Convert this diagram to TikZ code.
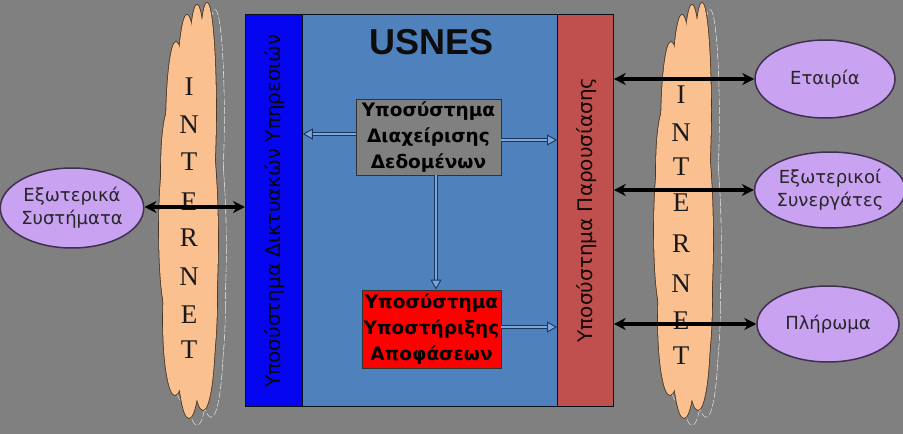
\documentclass[tikz,border=0pt]{standalone}
\usepackage{fontspec}
\setmainfont{DejaVu Sans}
\newfontfamily\usfont{Liberation Sans}
\newfontfamily\serf{Liberation Serif}
\usetikzlibrary{arrows.meta,shapes.geometric}
\definecolor{bg}{HTML}{808080}
\definecolor{netblue}{HTML}{0505F0}
\definecolor{midblue}{HTML}{4F81BD}
\definecolor{lightarrow}{HTML}{7FA6D6}
\definecolor{presred}{HTML}{C0504D}
\definecolor{peach}{HTML}{FAC090}
\definecolor{lav}{HTML}{C9A3F2}
\definecolor{navy}{HTML}{17375E}
\definecolor{cloudedge}{HTML}{4A3520}
\definecolor{lavedge}{HTML}{40304F}
\def\lobes{0/225/28/175, -13/130/10/88, -2/110/10/95, 8/100/9/95, 18/110/9/107, -14/320/12/75, 0/340/12/78, 14/330/12/80, -22/230/8/80, 22/240/7/90, -20/170/8/60, 20/300/8/70}
\tikzset{
  shadowline/.style={draw=white!80!bg, line width=1.2pt, dash pattern=on 7pt off 2pt},
  cloudline/.style={draw=cloudedge, line width=1.6pt},
  pics/netcloud/.style={code={
    \foreach \dx/\cy/\rx/\ry in \lobes {\draw[shadowline] (\dx+8,\cy+7) ellipse[x radius=\rx, y radius=\ry];}
    \foreach \dx/\cy/\rx/\ry in \lobes {\fill[bg] (\dx+8,\cy+7) ellipse[x radius=\rx, y radius=\ry];}
    \foreach \dx/\cy/\rx/\ry in \lobes {\draw[cloudline] (\dx,\cy) ellipse[x radius=\rx, y radius=\ry];}
    \foreach \dx/\cy/\rx/\ry in \lobes {\fill[peach] (\dx,\cy) ellipse[x radius=\rx, y radius=\ry];}
  }},
  letter/.style={font=\serf\fontsize{27}{27}\selectfont, inner sep=0pt, text=black!90},
  actor/.style={ellipse, fill=lav, draw=lavedge, line width=1.5pt, inner sep=0pt, align=center,
    font=\fontsize{18}{23}\selectfont, text=black!85},
  strip/.style={anchor=north west, inner sep=0pt, draw=black!70!navy, line width=0.8pt},
  subsys/.style={draw=black!80, line width=0.8pt, align=center, inner sep=0pt,
    font=\bfseries\fontsize{18.5}{26}\selectfont},
  vlabel/.style={rotate=90, font=\fontsize{20}{20}\selectfont, inner sep=0pt},
  dbl/.style={draw=navy, line width=0.9pt, double=lightarrow, double distance=2.4pt,
    -{Triangle[length=10pt, width=11pt, fill=lightarrow]}},
  link/.style={line width=3.4pt, black, {Stealth[length=12pt,width=12pt]}-{Stealth[length=12pt,width=12pt]}}
}
\begin{document}
\begin{tikzpicture}[x=1pt,y=-1pt]
\useasboundingbox (0,0) rectangle (903,434);
\fill[bg] (0,0) rectangle (903,434);
% clouds
\pic at (189,0) {netcloud};
\pic at (684,0) {netcloud};
\foreach \ch/\yy [count=\i] in {I/87,N/125,T/162,E/202,R/238,N/277,E/315,T/350}
  \node[letter] (la\i) at (189,\yy) {\ch};
\foreach \ch/\yy [count=\i] in {I/95,N/133,T/167,E/203,R/244,N/284,E/321,T/356}
  \node[letter] (lb\i) at (681,\yy) {\ch};
% main block
\node[strip, fill=midblue, minimum width=368, minimum height=392] (usnes) at (245,14) {};
\node[strip, fill=netblue, minimum width=57, minimum height=392] (net) at (245,14) {};
\node[strip, fill=presred, minimum width=56, minimum height=392] (pres) at (557,14) {};
\node[vlabel, text=black!90!navy] (netlbl) at (275,211) {Υποσύστημα Δικτυακών Υπηρεσιών};
\node[vlabel, text=black!90!presred] (preslbl) at (587,210) {Υποσύστημα Παρουσίασης};
\node[font=\usfont\bfseries\fontsize{36}{36}\selectfont, inner sep=0pt, text=black!95] (title) at (432,42) {USNES};
\node[subsys, fill=bg, minimum width=145, minimum height=76] (dm) at (428.5,137) {Υποσύστημα\\Διαχείρισης\\Δεδομένων};
\node[subsys, fill=red, minimum width=139, minimum height=78] (ds) at (431.5,329) {Υποσύστημα\\Υποστήριξης\\Αποφάσεων};
% internal arrows
\draw[dbl] ([yshift=3pt]dm.west) -- ([yshift=3pt]dm.west -| net.east);
\draw[dbl] ([yshift=-3pt]dm.east) -- ([yshift=-3pt]dm.east -| pres.west);
\draw[dbl] ([xshift=7.5pt]dm.south) -- ([xshift=7.5pt]dm.south |- ds.north);
\draw[dbl] ([yshift=2pt]ds.east) -- ([yshift=2pt]ds.east -| pres.west);
% actors
\node[actor, minimum width=142, minimum height=80] (ext) at (72,208) {Εξωτερικά\\Συστήματα};
\node[actor, minimum width=140, minimum height=78] (comp) at (825,79) {Εταιρία};
\node[actor, minimum width=146, minimum height=76] (partn) at (830,190) {Εξωτερικοί\\Συνεργάτες};
\node[actor, minimum width=142, minimum height=76] (pay) at (828,324) {Πλήρωμα};
% links
\draw[link] ([yshift=1pt]ext.east) -- ([yshift=1pt]ext.east -| net.west);
\draw[link] (pres.east |- comp.west) -- (comp.west);
\draw[link] (pres.east |- partn.west) -- (partn.west);
\draw[link] (pres.east |- pay.west) -- (pay.west);
\end{tikzpicture}
\end{document}
